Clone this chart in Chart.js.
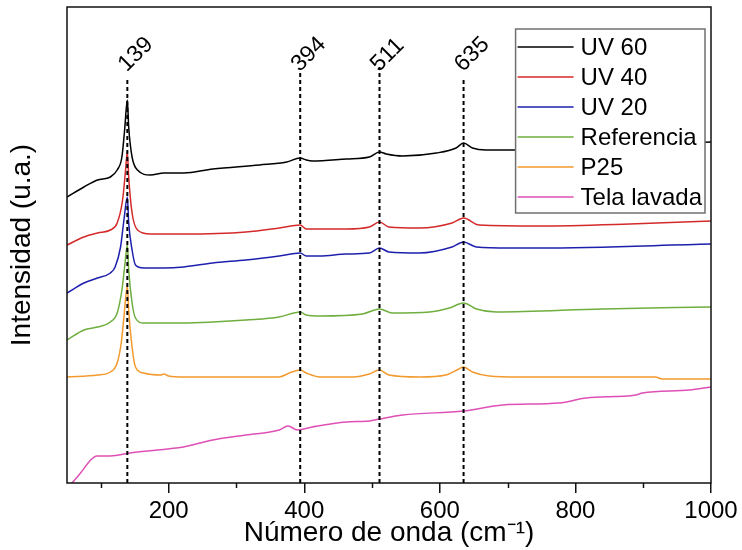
<!DOCTYPE html>
<html>
<head>
<meta charset="utf-8">
<script src="https://cdn.jsdelivr.net/npm/chart.js@4.4.0/dist/chart.umd.min.js"></script>
<style>
  body { margin: 0; background: #fff; }
  #wrap { width: 742px; height: 550px; }
</style>
</head>
<body>
<div id="wrap"><canvas id="raman"></canvas></div>
<script>
// Raman spectra, [wavenumber cm-1, intensity a.u. with vertical offset]
const uv60 = [[50,286],[75,296],[95,303],[114,306],[124,313],[131,326],[135,353],[139,383],[141,356],[146,326],[154,313],[173,308],[193,310],[222,310],[265,314],[334,318],[374,321],[394,325],[403,323],[412,322],[462,324],[496,326],[511,331],[521,329],[545,327],[595,330],[624,335],[635,340],[648,335],[668,333],[703,333],[850,337],[1000,341]];
const uv40 = [[50,238],[75,246],[95,250],[114,253],[124,260],[132,283],[136,310],[139,331],[141,306],[146,270],[154,253],[173,249],[222,249],[314,251],[363,255],[394,258],[403,254],[462,254],[496,256],[511,261],[525,256],[570,255],[618,260],[635,265],[658,258],[747,257],[880,259],[1000,262]];
const uv20 = [[50,190],[75,200],[95,205],[114,210],[121,216],[129,236],[134,263],[139,286],[141,260],[146,233],[151,218],[163,215],[193,215],[222,216],[265,220],[314,223],[363,227],[394,230],[403,227],[423,227],[462,229],[496,230],[511,235],[525,231],[570,230],[618,236],[635,241],[654,236],[703,235],[747,235],[1000,239]];
const referencia = [[50,143],[75,153],[95,156],[114,161],[124,170],[131,193],[135,216],[139,238],[141,213],[146,180],[151,165],[163,160],[222,160],[265,161],[314,163],[363,166],[394,171],[403,168],[423,167],[486,169],[511,174],[530,170],[585,171],[614,175],[635,180],[654,174],[683,171],[840,174],[1000,176]];
const p25 = [[50,106],[95,108],[114,111],[124,120],[130,140],[134,166],[139,197],[141,173],[146,136],[151,116],[163,110],[188,108],[193,109],[200,107],[222,106],[290,106],[363,106],[378,110],[394,113],[403,110],[423,106],[472,106],[496,109],[511,113],[525,108],[570,106],[609,108],[628,114],[635,116],[648,111],[673,107],[717,106],[918,106],[928,104],[1000,104]];
const telaLavada = [[50,-6],[55,-2],[70,10],[85,23],[94,27],[114,27],[143,30],[183,33],[222,36],[265,43],[314,48],[363,53],[376,57],[390,53],[412,56],[462,61],[496,62],[511,64],[545,68],[635,72],[693,78],[776,80],[816,85],[889,88],[899,90],[968,93],[1000,96]];

const seriesNames = ['UV 60', 'UV 40', 'UV 20', 'Referencia', 'P25', 'Tela lavada'];
const seriesColors = ['#000000', '#d42a2a', '#1f1fae', '#6fae3f', '#f29a2e', '#de50b6'];
const seriesData = [uv60, uv40, uv20, referencia, p25, telaLavada];

// marked bands and the height where each dashed guide stops
const peaks = [139, 394, 511, 635];
const peakLineTop = [406, 411, 416, 403];
const peakLabelY = 416;

const majorTicks = [200, 400, 600, 800, 1000];
const minorTicks = [100, 300, 500, 700, 900];

const FONT = "'Liberation Sans', Arial, sans-serif";

const datasets = seriesData.map((s, i) => ({
  label: seriesNames[i],
  data: s.map(p => ({x: p[0], y: p[1]})),
  borderColor: seriesColors[i],
  backgroundColor: seriesColors[i],
  borderWidth: 1.5,
  pointRadius: 0,
  cubicInterpolationMode: 'monotone',
  order: 1,
  isSpectrum: true
}));

peaks.forEach((p, i) => {
  datasets.push({
    label: 'peak ' + p,
    data: [{x: p, y: 0}, {x: p, y: peakLineTop[i]}],
    borderColor: '#000',
    borderWidth: 2,
    borderDash: [4, 3],
    pointRadius: 0,
    order: 0
  });
});

const framePlugin = {
  id: 'frame',
  afterDatasetsDraw(chart) {
    const {ctx, chartArea: a} = chart;
    ctx.save();
    ctx.strokeStyle = '#111';
    ctx.lineWidth = 1.5;
    ctx.strokeRect(a.left, a.top, a.right - a.left, a.bottom - a.top);
    ctx.restore();
  }
};

const peakLabels = {
  id: 'peakLabels',
  afterDatasetsDraw(chart) {
    const {ctx, scales: {x, y}} = chart;
    ctx.save();
    ctx.font = '23px ' + FONT;
    ctx.fillStyle = '#000';
    ctx.textAlign = 'left';
    ctx.textBaseline = 'middle';
    peaks.forEach(p => {
      ctx.save();
      ctx.translate(x.getPixelForValue(p) - 5, y.getPixelForValue(peakLabelY) + 1);
      ctx.rotate(-Math.PI / 4);
      ctx.fillText(String(p), 0, 0);
      ctx.restore();
    });
    ctx.restore();
  }
};

const minorTickPlugin = {
  id: 'minorTicks',
  afterDraw(chart) {
    const {ctx, chartArea: a, scales: {x}} = chart;
    ctx.save();
    ctx.strokeStyle = '#111';
    ctx.lineWidth = 1.5;
    minorTicks.forEach(v => {
      const px = Math.round(x.getPixelForValue(v)) + 0.5;
      ctx.beginPath();
      ctx.moveTo(px, a.bottom);
      ctx.lineTo(px, a.bottom + 5);
      ctx.stroke();
    });
    ctx.restore();
  }
};

// boxed legend in the upper right corner of the plot
const boxLegend = {
  id: 'boxLegend',
  afterDraw(chart) {
    const {ctx, chartArea: a} = chart;
    const items = chart.data.datasets.filter(d => d.isSpectrum);
    ctx.save();
    ctx.font = '24px ' + FONT;
    const textW = Math.max(...items.map(d => ctx.measureText(d.label).width));
    const w = textW + 68, rowH = 30, h = items.length * rowH + 4;
    const left = a.right - 6 - w, top = a.top + 22;
    ctx.fillStyle = '#fff';
    ctx.fillRect(left, top, w, h);
    ctx.strokeStyle = '#707070';
    ctx.lineWidth = 1.5;
    ctx.strokeRect(left, top, w, h);
    ctx.textBaseline = 'middle';
    ctx.textAlign = 'left';
    items.forEach((d, i) => {
      const cy = top + 18 + i * rowH;
      ctx.strokeStyle = d.borderColor;
      ctx.lineWidth = 1.5;
      ctx.beginPath();
      ctx.moveTo(left + 2, cy);
      ctx.lineTo(left + 58, cy);
      ctx.stroke();
      ctx.fillStyle = '#000';
      ctx.fillText(d.label, left + 65, cy + 1);
    });
    ctx.restore();
  }
};

new Chart(document.getElementById('raman'), {
  type: 'line',
  data: {datasets: datasets},
  options: {
    responsive: true,
    maintainAspectRatio: false,
    animation: false,
    layout: {padding: {top: 7, right: 31, bottom: 0, left: 0}},
    plugins: {legend: {display: false}, tooltip: {enabled: false}},
    scales: {
      x: {
        type: 'linear',
        min: 50,
        max: 1000,
        afterBuildTicks: s => { s.ticks = majorTicks.map(v => ({value: v})); },
        afterFit: s => { s.height = 67; },
        border: {display: false},
        grid: {drawOnChartArea: false, drawTicks: true, tickLength: 10, color: '#111', lineWidth: 1.5},
        ticks: {color: '#000', padding: 4, maxRotation: 0, font: {family: FONT, size: 24}, callback: v => String(v)},
        title: {display: true, text: 'Número de onda (cm⁻¹)', color: '#000', padding: {top: 0, bottom: 0}, font: {family: FONT, size: 28}}
      },
      y: {
        min: 0,
        max: 476,
        afterFit: s => { s.width = 67; },
        border: {display: false},
        grid: {display: false},
        ticks: {display: false},
        title: {display: true, text: 'Intensidad (u.a.)', color: '#000', padding: {top: 5, bottom: 0}, font: {family: FONT, size: 28}}
      }
    }
  },
  plugins: [framePlugin, peakLabels, minorTickPlugin, boxLegend]
});
</script>
</body>
</html>
